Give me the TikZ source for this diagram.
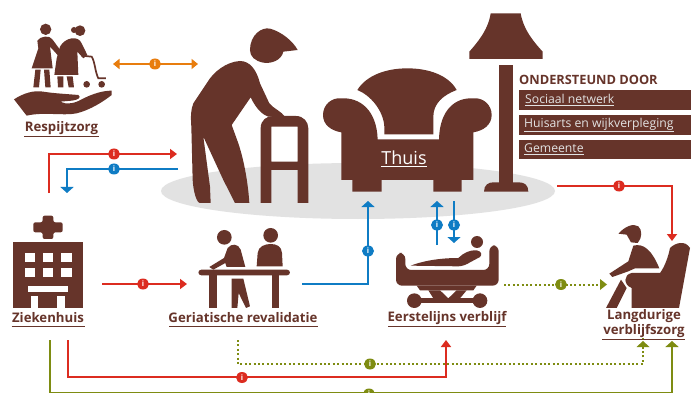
\documentclass[tikz,border=0pt]{standalone}
\usepackage{fontspec}
\setmainfont{Open Sans}
\usetikzlibrary{arrows.meta,shapes.geometric}
\definecolor{brn}{HTML}{66342A}
\definecolor{rd}{HTML}{DC2C20}
\definecolor{bl}{HTML}{0F7CC4}
\definecolor{og}{HTML}{E87D0E}
\definecolor{olv}{HTML}{7E8C12}
\definecolor{gry}{HTML}{E2E2E2}
\tikzset{
  qa/.style={x=.33333pt,y=-.33333pt},
  qb/.style={shift={(345pt,0pt)},x=.33333pt,y=-.33333pt},
  qc/.style={shift={(0pt,-193pt)},x=.33333pt,y=-.33333pt},
  qd/.style={shift={(345pt,-193pt)},x=.33333pt,y=-.33333pt},
  ic/.style={fill=brn,draw=none},
  wh/.style={fill=white,draw=none},
  lab/.style={text=brn,font=\fontsize{13.2}{15.5}\selectfont\bfseries,inner sep=0pt,align=center},
  ul/.style={draw=brn,line width=1pt},
  sup/.style={fill=brn,draw=none,minimum width=172pt,minimum height=19.5pt,inner sep=0pt,anchor=west},
  suptxt/.style={text=gry,font=\fontsize{12.2}{14}\selectfont,inner sep=0pt,anchor=west},
  conn/.style={line width=2pt},
  dotl/.style={line width=2pt,dash pattern=on 2pt off 2.4pt},
  tipr/.style={-{Triangle[length=7pt,width=10pt]}},
  tipb/.style={-{Triangle[length=6pt,width=13pt]}},
  mk/.style={ellipse,minimum width=12pt,minimum height=11pt,inner sep=0pt,text=white,font=\fontsize{7.5}{7.5}\selectfont\bfseries},
}
\begin{document}
\begin{tikzpicture}[x=1pt,y=-1pt]
\useasboundingbox (0,0) rectangle (691,393);
\clip (0,0) rectangle (691,393);
\fill[white] (0,0) rectangle (691,393);
\fill[gry] (358,191) ellipse [x radius=197pt,y radius=28pt];

% big man
\begin{scope}[qa]
\fill[ic] (750,150) .. controls (750,105) and (785,80) .. (810,86) .. controls (845,95) and (880,125) .. (893,150) -- (850,155) .. controls (845,180) and (815,192) .. (790,188) .. controls (765,183) and (750,170) .. (750,150) -- cycle;
\fill[ic] (720,183) .. controls (680,185) and (640,215) .. (620,250) -- (580,310) .. controls (572,330) and (572,350) .. (574,380) -- (578,540) .. controls (580,575) and (590,609) .. (600,609) -- (632,609) -- (630,560) -- (610,410) -- (670,540) -- (705,609) -- (748,609) .. controls (745,560) and (735,490) .. (715,430) -- (695,375) -- (752,292) .. controls (770,330) and (790,345) .. (805,350) -- (855,350) .. controls (845,335) and (820,325) .. (808,310) -- (780,250) .. controls (770,210) and (750,183) .. (720,183) -- cycle;
\fill[ic,even odd rule] (782,609) -- (782,385) .. controls (782,360) and (800,348) .. (820,348) -- (888,348) .. controls (910,348) and (925,365) .. (925,385) -- (925,609) -- (893,609) -- (893,510) -- (814,510) -- (814,609) -- cycle (814,380) -- (814,485) -- (893,485) -- (893,380) -- cycle;
\end{scope}

% respijtzorg icon
\begin{scope}[qa]
\fill[ic] (137,88) circle (17);
\fill[ic] (112,122) .. controls (120,108) and (150,105) .. (157,118) -- (192,165) -- (182,175) -- (150,140) -- (158,205) -- (95,205) -- (115,145) -- cycle;
\fill[ic] (106,209) -- (122,209) -- (117,262) -- (100,262) -- cycle;
\fill[ic] (132,209) -- (148,209) -- (152,262) -- (136,262) -- cycle;
\fill[ic] (240,92) circle (16);
\fill[ic] (222,90) circle (9);
\fill[ic] (180,140) .. controls (195,112) and (235,105) .. (245,130) -- (262,165) -- (250,175) -- (232,155) -- (235,225) -- (163,225) -- (170,175) -- cycle;
\fill[ic] (172,229) -- (190,229) -- (190,262) -- (174,262) -- cycle;
\fill[ic] (200,229) -- (218,229) -- (222,262) -- (206,262) -- cycle;
\draw[brn,line width=1.7pt] (245,167) -- (275,170) .. controls (285,185) and (285,215) .. (295,235) -- (318,235);
\fill[ic] (260,253) circle (10) (305,253) circle (10);
\fill[ic] (42,298) .. controls (70,280) and (100,270) .. (130,275) .. controls (160,280) and (200,282) .. (235,285) .. controls (245,292) and (235,300) .. (215,302) -- (180,305) .. controls (200,315) and (225,310) .. (245,298) .. controls (280,280) and (310,272) .. (335,272) -- (335,285) .. controls (310,305) and (270,330) .. (230,340) .. controls (190,348) and (130,335) .. (80,347) -- cycle;
\end{scope}

% chair and lamp
\begin{scope}[qb]
\fill[ic] (37,270) .. controls (65,225) and (125,205) .. (187,205) .. controls (250,205) and (310,225) .. (335,270) .. controls (295,285) and (265,310) .. (265,350) -- (265,403) -- (118,403) -- (118,380) .. controls (115,330) and (75,285) .. (37,270) -- cycle;
\fill[ic] (385,295) .. controls (415,292) and (440,315) .. (440,345) .. controls (440,375) and (415,392) .. (385,397) -- (385,540) -- (350,540) -- (350,575) -- (265,575) -- (265,540) -- (110,540) -- (110,575) -- (22,575) -- (22,540) -- (-11,540) -- (-11,397) .. controls (-41,392) and (-66,375) .. (-66,345) .. controls (-66,315) and (-41,292) .. (-11,295) .. controls (45,292) and (95,330) .. (98,418) -- (282,418) .. controls (284,330) and (330,292) .. (385,295) -- cycle;
\fill[ic] (437,40) -- (527,40) .. controls (535,90) and (570,130) .. (593,155) -- (593,177) -- (373,177) -- (373,155) .. controls (395,130) and (430,90) .. (437,40) -- cycle;
\fill[ic] (461,195) rectangle (505,550);
\fill[ic] (417,575) .. controls (417,555) and (430,547) .. (445,547) -- (522,547) .. controls (538,547) and (550,555) .. (550,575) -- cycle;
\end{scope}
\node[text=white,font=\fontsize{18}{20}\selectfont,inner sep=0pt] (thuis) at (404,158) {Thuis};
\draw[white,line width=.9pt] ([yshift=-1pt]thuis.south west) -- ([yshift=-1pt]thuis.south east);

% support
\node[text=brn,font=\fontsize{12.8}{15}\selectfont\bfseries,inner sep=0pt,anchor=west] (hdr) at (519,79.5) {ONDERSTEUND DOOR};
\node[sup] (s1) at (519,100) {};
\node[sup] (s2) at (519,125) {};
\node[sup] (s3) at (519,149.5) {};
\node[suptxt] (t1) at (525,100) {\underline{Sociaal netwerk}};
\node[suptxt] (t2) at (524,125) {\underline{Huisarts en wijkverpleging}};
\node[suptxt] (t3) at (524,149) {\underline{Gemeente}};

% hospital
\begin{scope}[qc]
\fill[ic,rounded corners=2pt] (128,68) -- (160,68) -- (160,88) -- (188,88) -- (188,118) -- (160,118) -- (160,138) -- (128,138) -- (128,118) -- (100,118) -- (100,88) -- (128,88) -- cycle;
\fill[ic] (40,148) rectangle (248,345);
\foreach \xx in {74,128,184}{
  \fill[wh] (\xx,180) rectangle (\xx+32,207);
  \fill[wh] (\xx,224) rectangle (\xx+32,251);
}
\fill[wh] (85,279) rectangle (205,297);
\fill[wh] (92,308) rectangle (115,345);
\fill[wh] (172,308) rectangle (195,345);
\end{scope}

% revalidation
\begin{scope}[qc]
\fill[ic] (673,133) circle (22);
\fill[ic] (812,127) circle (22);
\fill[ic,rounded corners=3pt] (595,230) rectangle (870,247);
\fill[ic] (628,247) rectangle (652,345);
\fill[ic] (815,247) rectangle (838,345);
\fill[ic] (628,222) -- (672,195) -- (683,165) .. controls (695,150) and (715,152) .. (722,170) -- (736,222) -- (680,222) -- (676,210) -- (640,230) -- cycle;
\fill[ic] (770,220) -- (773,180) .. controls (775,160) and (795,153) .. (812,153) .. controls (830,153) and (845,160) .. (846,180) -- (848,220) -- cycle;
\fill[ic] (695,257) -- (730,257) -- (750,340) -- (738,345) -- (716,300) -- (712,345) -- (695,345) -- cycle;
\end{scope}

% bed
\begin{scope}[qd]
\fill[ic] (396,147) circle (18);
\fill[ic] (197,218) .. controls (230,205) and (280,195) .. (340,195) .. controls (355,180) and (375,170) .. (395,172) .. controls (410,175) and (412,185) .. (405,192) -- (375,208) .. controls (365,215) and (350,220) .. (340,220) -- cycle;
\fill[ic,rounded corners=6pt] (153,180) -- (181,180) -- (181,231) -- (433,231) -- (433,157) -- (461,157) -- (461,278) -- (153,278) -- cycle;
\fill[ic] (215,278) -- (395,278) -- (385,292) -- (225,292) -- cycle;
\fill[ic] (250,292) -- (285,292) -- (310,316) -- (335,292) -- (365,292) -- (345,316) -- (265,316) -- cycle;
\fill[ic] (208,323) circle (22) (405,323) circle (22);
\fill[ic] (208,316) rectangle (405,331);
\end{scope}

% long-term care
\begin{scope}[qd]
\fill[ic] (820,122) .. controls (840,100) and (865,90) .. (880,100) .. controls (892,110) and (892,135) .. (878,150) -- (858,148) -- (845,125) -- cycle;
\fill[ic] (865,158) .. controls (895,150) and (920,170) .. (943,226) -- (870,226) -- (850,235) -- (802,252) -- (793,242) -- (850,205) -- cycle;
\fill[ic] (828,260) -- (845,285) -- (815,345) -- (783,345) -- cycle;
\fill[ic] (975,165) .. controls (990,150) and (1020,140) .. (1035,165) -- (1002,345) -- (860,345) -- (860,285) .. controls (835,275) and (835,245) .. (860,240) -- (945,240) .. controls (960,220) and (970,190) .. (975,165) -- cycle;
\end{scope}

% coordinates for connectors
\coordinate (oa) at (113,64);
\coordinate (ob) at (198,64);
\coordinate (ra) at (48.7,193);
\coordinate (rb) at (177,154);
\coordinate (ba) at (178,169);
\coordinate (bb) at (67,193);
\coordinate (rc) at (557,186);
\coordinate (rd) at (672,241);
\coordinate (re) at (102,284);
\coordinate (rf) at (187,284);
\coordinate (bc) at (302,284);
\coordinate (bd) at (368,201);
\coordinate (be) at (437,245);
\coordinate (bf) at (437,201);
\coordinate (bg) at (454,201);
\coordinate (bh) at (454,243);
\coordinate (da) at (504,284.5);
\coordinate (db) at (607,284.5);
\coordinate (dc) at (238,340);
\coordinate (dd) at (643,341);
\coordinate (rg) at (67.7,340);
\coordinate (rh) at (446,340);
\coordinate (oc) at (50,340);
\coordinate (od) at (672,341);

\draw[og,conn,{Triangle[length=6.5pt,width=10pt]}-{Triangle[length=6.5pt,width=10pt]}] (oa) -- (ob);
\draw[rd,conn,tipr] (ra) |- (rb);
\draw[bl,conn,tipb] (ba) -| (bb);
\draw[rd,conn,tipr] (rc) -| (rd);
\draw[rd,conn,tipr] (re) -- (rf);
\draw[bl,conn,tipb] (bc) -| (bd);
\draw[bl,conn,tipb] (be) -- (bf);
\draw[bl,conn,tipb] (bg) -- (bh);
\draw[olv,dotl] (da) -- ([xshift=-8pt]db);
\fill[olv] (db) -- ++(-7,-5.5) -- ++(0,11) -- cycle;
\draw[olv,dotl] (dc) |- (643,364) -- ([yshift=6pt]dd);
\fill[olv] (dd) -- ++(-6.5,6) -- ++(13,0) -- cycle;
\draw[rd,conn,tipr] (rg) |- (446,377) -- (rh);
\draw[olv,conn,tipb] (oc) |- (672,392.5) -- (od);

\node[mk,fill=og] (m1) at (155,64) {i};
\node[mk,fill=rd] (m2) at (114,154) {i};
\node[mk,fill=bl] (m3) at (114,169) {i};
\node[mk,fill=rd] (m4) at (619,186) {i};
\node[mk,fill=rd] (m5) at (143,284) {i};
\node[mk,fill=bl] (m6) at (368,251) {i};
\node[mk,fill=bl] (m7) at (437,225) {i};
\node[mk,fill=bl] (m8) at (454,225) {i};
\node[mk,fill=olv] (m9) at (561,284.5) {i};
\node[mk,fill=olv] (m10) at (370,364) {i};
\node[mk,fill=rd] (m11) at (242,377.5) {i};
\node[mk,fill=olv] (m12) at (369,394) {i};

% labels
\node[lab] (l1) at (61.5,128) {Respijtzorg};
\draw[ul] (24,136.5) -- (99,136.5);
\node[lab] (l2) at (48,318) {Ziekenhuis};
\draw[ul] (11.5,326.5) -- (85,326.5);
\node[lab] (l3) at (243,318) {Geriatische revalidatie};
\draw[ul] (169,326.5) -- (318,326.5);
\node[lab] (l4) at (447,318) {Eerstelijns verblijf};
\draw[ul] (388,326.5) -- (506,326.5);
\node[lab] (l5) at (644,323.5) {Langdurige\\verblijfszorg};
\draw[ul] (602,339) -- (685,339);
\end{tikzpicture}
\end{document}
